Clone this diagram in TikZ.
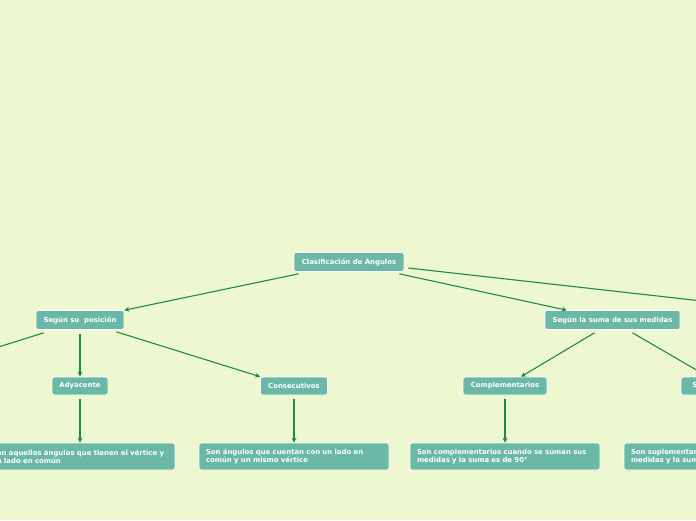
\documentclass[tikz,border=0pt]{standalone}
\usepackage{fontspec}
\setsansfont{DejaVu Sans}
\usetikzlibrary{arrows.meta}
\definecolor{paper}{HTML}{EEF8D0}
\definecolor{topicfill}{HTML}{6BB8A7}
\definecolor{linkgreen}{HTML}{1E8C3E}

\begin{document}
\begin{tikzpicture}[
  x=1pt, y=-1pt,
  >={Stealth[length=5pt,width=5pt]},
  topic/.style={rounded corners=2.5pt, fill=topicfill, draw=white, line width=0.6pt,
    text=white, font=\sffamily\bfseries\fontsize{6.9}{8.2}\selectfont,
    minimum height=19pt, inner xsep=3pt},
  note/.style={topic, text width=176pt, align=left, minimum height=27pt, inner xsep=7pt},
  link/.style={->, draw=linkgreen, line width=1.1pt}
]
  \fill[paper] (0,0) rectangle (696,520);
  \useasboundingbox (0,0) rectangle (696,520);
  \clip (0,0) rectangle (696,520);

  \node[topic, minimum width=110pt] (root) at (349,262) {Clasificación de Ángulos};
  \node[topic, minimum width=88pt] (pos) at (80,320) {Según su\ \ posición};
  \node[topic, minimum width=135pt] (suma) at (612.5,320) {Según la suma de sus medidas};

  \node[topic, minimum width=56pt, minimum height=18pt] (ady) at (80,386) {Adyacente};
  \node[topic, minimum width=67pt, minimum height=18pt] (cons) at (294,386) {Consecutivos};
  \node[topic, minimum width=84pt, minimum height=18pt] (comp) at (505,386) {Complementarios};
  \node[topic, minimum width=84pt, minimum height=18pt] (supl) at (723,386) {Suplementarios};

  \node[note] (adyd) at (80,456.5) {Son aquellos ángulos que tienen el vértice y\\un lado en común};
  \node[note] (consd) at (294,456.5) {Son ángulos que cuentan con un lado en\\común y un mismo vértice};
  \node[note] (compd) at (505,456.5) {Son complementarios cuando se suman sus\\medidas y la suma es de 90°};
  \node[note] (supld) at (719,456.5) {Son suplementarios cuando se suman sus\\medidas y la suma es de 180°};

  % ends of the links that leave the page
  \coordinate (opuesto) at (-97,377);
  \coordinate (medida) at (800,312);

  \draw[link] ([xshift=5pt,yshift=-2pt]root.south west) -- (pos.north east);
  \draw[link] ([xshift=-5pt,yshift=-2pt]root.south east) -- ([xshift=22pt]suma.north west);
  \draw[link] ([xshift=4pt,yshift=-6pt]root.east) -- (medida);

  \draw[link] ([xshift=8pt,yshift=-3pt]pos.south west) -- (opuesto);
  \draw[link] ([yshift=-4pt]pos.south) -- (ady.north);
  \draw[link] ([xshift=-8pt,yshift=-2pt]pos.south east) -- (cons.north west);

  \draw[link] ([xshift=-18pt,yshift=-3pt]suma.south) -- ([xshift=16pt]comp.north);
  \draw[link] ([xshift=20pt,yshift=-3pt]suma.south) -- ([xshift=-15pt]supl.north);

  \foreach \a/\b in {ady/adyd, cons/consd, comp/compd, supl/supld}
    \draw[link] ([yshift=-4pt]\a.south) -- (\b.north);
\end{tikzpicture}
\end{document}
